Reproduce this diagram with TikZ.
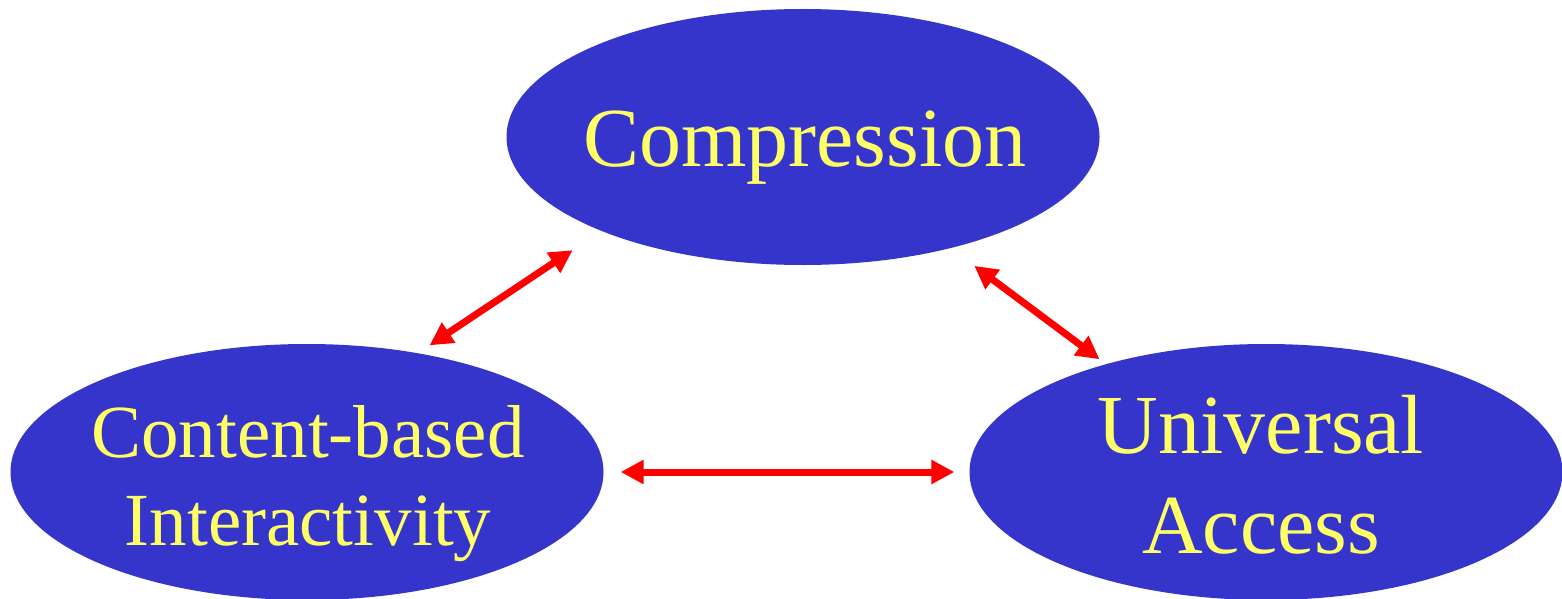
\documentclass[tikz,border=0pt]{standalone}
\usepackage{fontspec}
\setmainfont{Liberation Serif}
\usetikzlibrary{shapes.geometric,arrows.meta,positioning}
\definecolor{blobcolor}{RGB}{53,53,204}
\definecolor{wordcolor}{RGB}{255,255,102}

\begin{document}
\begin{tikzpicture}[%
    x=1pt, y=-1pt,                            % pixel units, y runs downwards
    >={Triangle[length=23pt,width=23pt]},     % broad flat heads
    ]
\tikzset{
  blob/.style={ellipse, fill=blobcolor, minimum width=593pt, minimum height=256pt, inner sep=0pt},
  blobtext/.style={text=wordcolor, align=center, inner sep=0pt},
  link/.style={draw=red, line width=7pt, <->},
}
\useasboundingbox (0,0) rectangle (1562,599);

\node [blob] (comp) at (803,137) {};
\node [blob] (cbi) at (307,472) {};
\node [blob] (ua) at (1266,472) {};

\node [blobtext, anchor=base, font=\fontsize{84}{100}\selectfont] (compt) at (805,166) {Compression};
\node [blobtext, font=\fontsize{75}{88}\selectfont] (cbit) at (308,484) {Content-based\\Interactivity};
\node [blobtext, font=\fontsize{84}{100}\selectfont] (uat) at (1261,475) {Universal\\Access};

\draw [link, shorten <=14pt, shorten >=34.5pt] (cbi.47.5) -- (comp.205);
\draw [link, shorten <=29.5pt, shorten >=8pt] (comp.-37.5) -- (ua.146.4);
\draw [link, shorten <=17pt, shorten >=15pt] (cbi) -- (ua);

\end{tikzpicture}
\end{document}
